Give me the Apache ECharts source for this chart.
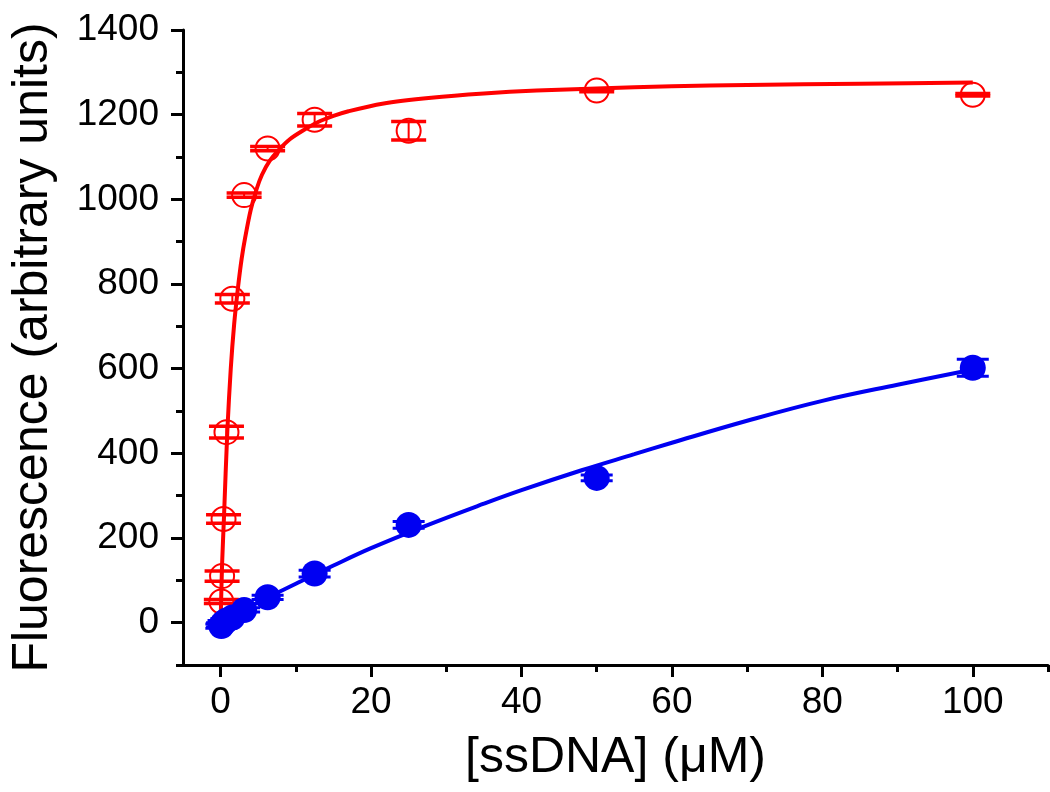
<!DOCTYPE html>
<html><head><meta charset="utf-8">
<script src="https://cdn.jsdelivr.net/npm/echarts@6/dist/echarts.min.js"></script>
<style>html,body{margin:0;padding:0;background:#fff}#c{width:1050px;height:792px}</style>
</head><body><div id="c"></div>
<script>
// ---- data ----
const conc = [0.098, 0.195, 0.39, 0.78, 1.56, 3.125, 6.25, 12.5, 25, 50, 100];
const redY = [50, 110, 245, 450, 765, 1010, 1120, 1188, 1162, 1257, 1247];
const redErr = [5, 12, 10, 14, 10, 5, 5, 15, 22, 3, 3];
const blueY = [-8, -5, 0, 5, 12, 30, 60, 116, 231, 342, 602];
const blueErr = [5, 5, 5, 5, 5, 5, 5, 8, 8, 7, 20];
const redFitX = [0, 0.1, 0.2, 0.45, 0.9, 1.35, 1.8, 2.3, 2.8, 3.3, 4, 4.8, 5.5, 6.5, 7.8, 9.2, 10.9, 12.9, 15, 17, 21.5, 28, 35, 42, 50, 60, 70, 85, 100];
const redFitY = [0, 75, 140, 250, 455, 600, 705, 790, 860, 913, 975, 1025, 1058, 1090, 1118, 1142, 1162, 1182, 1197, 1208, 1226, 1240, 1250, 1257, 1262, 1267, 1270, 1273, 1276];
const blueFitX = [0, 5, 10, 15, 20, 27, 35, 40, 48, 55, 60, 70, 80, 90, 100];
const blueFitY = [0, 48, 92, 135, 176, 227, 281, 313, 360, 398, 425, 477, 524, 562, 598];
const xMajor = [0, 20, 40, 60, 80, 100];
const xMinor = [10, 30, 50, 70, 90, 110];
const yMajor = [0, 200, 400, 600, 800, 1000, 1200, 1400];
const yMinor = [-100, 100, 300, 500, 700, 900, 1100, 1300];

const FONT = 'Liberation Sans, Arial, sans-serif';
const RED = '#ff0000', BLUE = '#0000f2';

const zip = (a, b) => a.map((v, i) => [v, b[i]]);
const errData = (ys, es) => conc.map((x, i) => [x, ys[i] - es[i], ys[i] + es[i]]);

function errBars(color, capW, capLw) {
  return function (params, api) {
    const x = api.value(0), lo = api.value(1), hi = api.value(2);
    const p1 = api.coord([x, hi]), p2 = api.coord([x, lo]);
    const cs = { stroke: color, lineWidth: capLw, fill: null };
    return { type: 'group', children: [
      { type: 'line', shape: { x1: p1[0], y1: p1[1], x2: p2[0], y2: p2[1] }, style: { stroke: color, lineWidth: 2, fill: null } },
      { type: 'line', shape: { x1: p1[0] - capW / 2, y1: p1[1], x2: p1[0] + capW / 2, y2: p1[1] }, style: cs },
      { type: 'line', shape: { x1: p2[0] - capW / 2, y1: p2[1], x2: p2[0] + capW / 2, y2: p2[1] }, style: cs }
    ]};
  };
}

const axisLineStyle = { color: '#000', width: 3 };
const tickStyle = { color: '#000', width: 3 };
const plain = v => String(v);

const chart = echarts.init(document.getElementById('c'), null, { renderer: 'canvas' });
chart.setOption({
  animation: false,
  backgroundColor: '#fff',
  grid: { left: 181, top: 30, right: 2, bottom: 127, containLabel: false },
  xAxis: [
    { type: 'value', min: -5, max: 110, position: 'bottom',
      axisLine: { show: true, onZero: false, lineStyle: axisLineStyle },
      axisTick: { show: true, customValues: xMajor, length: 12, lineStyle: tickStyle },
      axisLabel: { customValues: xMajor, formatter: plain, fontSize: 37, color: '#000', fontFamily: FONT, margin: 19 },
      splitLine: { show: false },
      name: '[ssDNA] (μM)', nameLocation: 'middle', nameGap: 68,
      nameTextStyle: { fontSize: 50, color: '#000', fontFamily: FONT } },
    { type: 'value', min: -5, max: 110, position: 'bottom',
      axisLine: { show: false, onZero: false },
      axisTick: { show: true, customValues: xMinor, length: 7, lineStyle: tickStyle },
      axisLabel: { show: false }, splitLine: { show: false } }
  ],
  yAxis: [
    { type: 'value', min: -100, max: 1400, position: 'left',
      axisLine: { show: true, onZero: false, lineStyle: axisLineStyle },
      axisTick: { show: true, customValues: yMajor, length: 12, lineStyle: tickStyle },
      axisLabel: { customValues: yMajor, formatter: plain, fontSize: 37, color: '#000', fontFamily: FONT, margin: 24 },
      splitLine: { show: false },
      name: 'Fluorescence (arbitrary units)', nameLocation: 'middle', nameGap: 125,
      nameTextStyle: { fontSize: 50, color: '#000', fontFamily: FONT } },
    { type: 'value', min: -100, max: 1400, position: 'left',
      axisLine: { show: false, onZero: false },
      axisTick: { show: true, customValues: yMinor, length: 7, lineStyle: tickStyle },
      axisLabel: { show: false }, splitLine: { show: false } }
  ],
  series: [
    { type: 'line', name: 'blueFit', data: zip(blueFitX, blueFitY), smooth: 0.4, symbol: 'none',
      lineStyle: { color: BLUE, width: 4 }, z: 2 },
    { type: 'line', name: 'redFit', data: zip(redFitX, redFitY), smooth: 0.3, symbol: 'none',
      lineStyle: { color: RED, width: 4 }, z: 3 },
    { type: 'custom', name: 'redErr', data: errData(redY, redErr), renderItem: errBars(RED, 35, 3.5), z: 4 },
    { type: 'scatter', name: 'red', data: zip(conc, redY), symbol: 'circle', symbolSize: 24,
      itemStyle: { color: 'rgba(0,0,0,0)', borderColor: RED, borderWidth: 2, opacity: 1 }, z: 5 },
    { type: 'custom', name: 'blueErr', data: errData(blueY, blueErr), renderItem: errBars(BLUE, 32, 3), z: 6 },
    { type: 'scatter', name: 'blue', data: zip(conc, blueY), symbol: 'circle', symbolSize: 26,
      itemStyle: { color: BLUE, opacity: 1 }, z: 7 }
  ]
});
</script>
</body></html>
